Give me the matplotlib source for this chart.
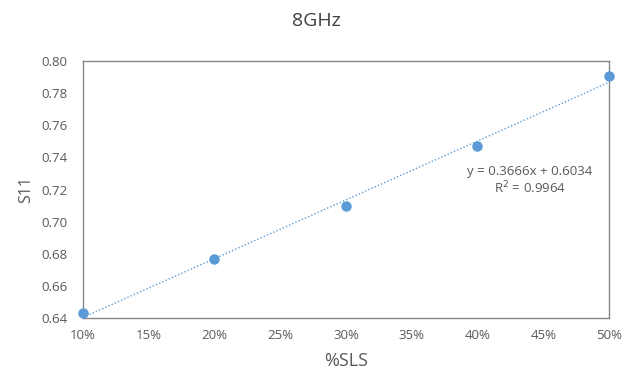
import matplotlib.pyplot as plt
import numpy as np
from matplotlib.ticker import FuncFormatter

plt.rcParams['font.family'] = ['Open Sans', 'DejaVu Sans']

# data
sls = [0.10, 0.20, 0.30, 0.40, 0.50]
s11 = [0.643, 0.677, 0.710, 0.747, 0.791]
fit_text = "y = 0.3666x + 0.6034\nR$^2$ = 0.9964"

blue = "#5B9BD5"
grey = "#595959"

fig = plt.figure(figsize=(6.36, 3.82), dpi=100)
ax = fig.add_axes([0.1305, 0.1675, 0.827, 0.6725])

# trend line from a linear fit
coef = np.polyfit(sls, s11, 1)
xs = np.array([sls[0], sls[-1]])
ax.plot(xs, np.polyval(coef, xs), color=blue, linestyle=(0, (1, 1.5)), linewidth=1.0)
ax.plot(sls, s11, 'o', color=blue, markersize=6.5, clip_on=False, zorder=3)

ax.set_xlim(0.10, 0.50)
ax.set_ylim(0.64, 0.80)
ax.set_xticks(np.arange(0.10, 0.501, 0.05))
ax.set_yticks(np.arange(0.64, 0.801, 0.02))
ax.xaxis.set_major_formatter(FuncFormatter(lambda v, p: "%d%%" % round(v * 100)))
ax.yaxis.set_major_formatter(FuncFormatter(lambda v, p: "%.2f" % v))
ax.tick_params(length=0, labelsize=9.5, colors=grey)
ax.tick_params(axis='x', pad=8)
ax.tick_params(axis='y', pad=11)

for s in ax.spines.values():
    s.set_color("#868686")
    s.set_linewidth(1.0)

ax.set_xlabel("%SLS", fontsize=13, color=grey, labelpad=7)
ax.set_ylabel("S11", fontsize=11.5, color=grey, labelpad=5)
fig.text(0.497, 0.945, "8GHz", ha='center', va='center', fontsize=14, color="#404040")

ax.text(0.44, 0.7256, fit_text, ha='center', va='center', fontsize=9.5, color=grey,
        linespacing=1.15)

fig.savefig("out.png", dpi=100)
